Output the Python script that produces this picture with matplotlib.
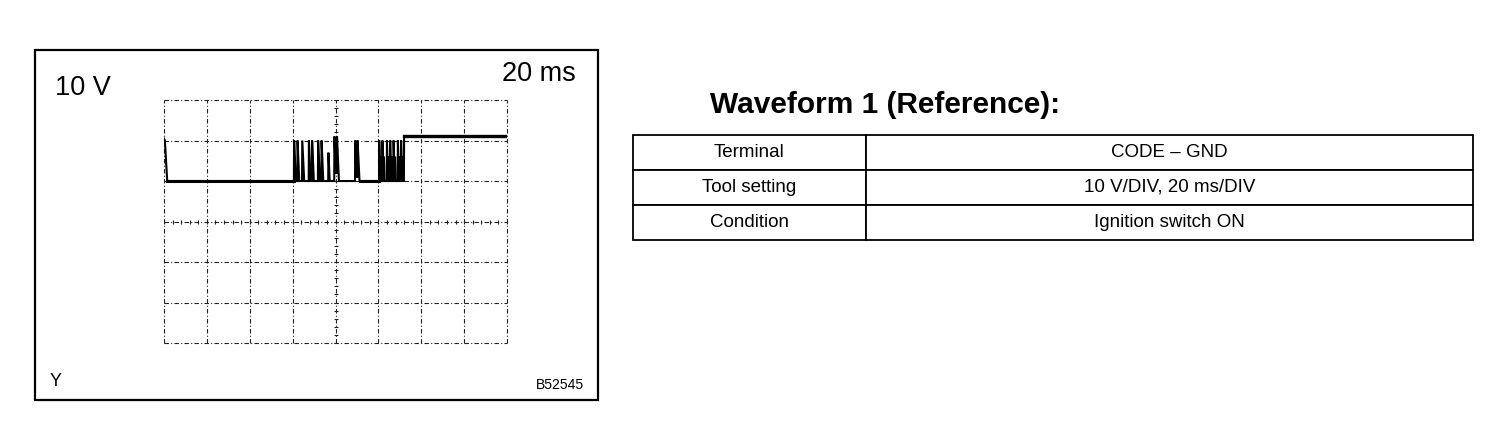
import matplotlib
matplotlib.use('Agg')
import matplotlib.pyplot as plt
from matplotlib.patches import Rectangle

# scope trace, time in ms and voltage in V (0 V = trace low level)
trace_t = [0.0, 0.4, 1.5, 59.0,
           60.6, 60.7, 61.5, 62.2, 62.3, 63.1, 64.4, 64.5, 65.4,
           67.5, 67.6, 68.4, 69.0, 69.1, 69.9, 71.8, 71.9, 72.7,
           73.4, 73.5, 74.3, 76.6, 76.7, 77.3, 79.4, 79.5, 80.1,
           80.6, 80.7, 81.6, 89.1, 89.2, 89.8, 90.2, 90.3, 91.2,
           100.3, 100.4, 100.7, 101.1, 101.3, 101.8, 101.9, 102.2, 102.6,
           102.8, 103.9, 104.0, 104.3, 104.7, 104.9, 105.4, 105.5, 105.8,
           106.2, 106.4, 107.0, 107.1, 107.4, 107.8, 108.0, 109.0, 109.1,
           109.4, 109.8, 110.0, 110.5, 110.6, 110.9, 111.3, 111.5, 111.9,
           112.0, 160.0]
trace_v = [10.5, 10.0, 0.0, 0.0,
           0.0, 10.0, 0.0, 0.0, 10.0, 0.0, 0.0, 10.0, 0.0,
           0.0, 10.0, 0.0, 0.0, 10.0, 0.0, 0.0, 10.0, 0.0,
           0.0, 10.0, 0.0, 0.0, 7.0, 0.0, 0.0, 11.0, 2.0,
           2.0, 11.0, 0.0, 0.0, 10.0, 1.0, 1.0, 10.0, 0.0,
           0.0, 10.0, 4.0, 6.0, 0.0, 0.0, 10.0, 4.0, 6.0,
           0.0, 0.0, 10.0, 4.0, 6.0, 0.0, 0.0, 10.0, 4.0,
           6.0, 0.0, 0.0, 10.0, 4.0, 6.0, 0.0, 0.0, 10.0,
           4.0, 6.0, 0.0, 0.0, 10.0, 4.0, 6.0, 0.0, 0.0,
           11.0, 11.0]

volt_div = 10   # V/DIV
time_div = 20   # ms/DIV
n_xdiv = 8
n_ydiv = 6
y_bottom = -40

row_labels = ['Terminal', 'Tool setting', 'Condition']
row_values = ['CODE – GND', '10 V/DIV, 20 ms/DIV', 'Ignition switch ON']

FONT = ['Liberation Sans', 'DejaVu Sans']

W, H = 1504, 438


def px(x, y, w, h):
    # pixel box (top-left origin) -> figure fraction
    return [x / W, 1 - (y + h) / H, w / W, h / H]


fig = plt.figure(figsize=(W / 100, H / 100), dpi=100)

# outer frame of the scope picture
fig.patches.append(Rectangle((35 / W, 1 - 400 / H), 563 / W, 350 / H,
                             transform=fig.transFigure, fill=False,
                             lw=1.6, ec='black'))

fig.text(55 / W, 1 - 88 / H, '10 V', family=FONT, fontsize=19.5, va='center', ha='left')
fig.text(576 / W, 1 - 74 / H, '20 ms', family=FONT, fontsize=19.5, va='center', ha='right')
fig.text(50 / W, 1 - 382 / H, 'Y', family=FONT, fontsize=13, va='center', ha='left')
fig.text(584 / W, 1 - 385 / H, 'B52545', family=FONT, fontsize=10, va='center', ha='right')

# ---------------- scope screen ----------------
ax = fig.add_axes(px(164, 100, 343, 243))
x_max = n_xdiv * time_div
y_top = y_bottom + n_ydiv * volt_div
ax.set_xlim(0, x_max)
ax.set_ylim(y_bottom, y_top)
ax.axis('off')

grid_kw = dict(color='#222222', lw=0.8, ls=(0, (4, 2, 1, 2)), clip_on=False)
for i in range(n_xdiv + 1):
    ax.axvline(i * time_div, **grid_kw)
for j in range(n_ydiv + 1):
    ax.axhline(y_bottom + j * volt_div, **grid_kw)

# centre lines with sub-division ticks
x_c = x_max / 2
y_c = y_bottom + n_ydiv * volt_div / 2
sub_x = [k * time_div / 5 for k in range(n_xdiv * 5 + 1)]
sub_y = [y_bottom + k * volt_div / 5 for k in range(n_ydiv * 5 + 1)]
ax.plot(sub_x, [y_c] * len(sub_x), ls='none', marker='|', ms=3.5, mew=0.8, color='#222222')
ax.plot([x_c] * len(sub_y), sub_y, ls='none', marker='_', ms=3.5, mew=0.8, color='#222222')

ax.plot(trace_t, trace_v, color='black', lw=1.5, solid_joinstyle='miter')
# heavier flat segments of the trace, as on the screen
ax.plot([1.5, 60.6], [0, 0], color='black', lw=2.2)
ax.plot([91.2, 100.3], [0, 0], color='black', lw=2.2)
ax.plot([112.0, 160.0], [11, 11], color='black', lw=2.4)

# ---------------- title and table ----------------
fig.text(710 / W, 1 - 105 / H, 'Waveform 1 (Reference):', family=FONT,
         fontsize=21.5, fontweight='bold', va='center', ha='left')

tax = fig.add_axes(px(633, 135, 840, 105))
tax.axis('off')
tab = tax.table(cellText=[[a, b] for a, b in zip(row_labels, row_values)],
                colWidths=[233 / 840, 607 / 840], cellLoc='center',
                bbox=[0, 0, 1, 1])
tab.auto_set_font_size(False)
for (r, c), cell in tab.get_celld().items():
    cell.set_linewidth(1.3)
    cell.get_text().set_fontsize(13.5)
    cell.get_text().set_family(FONT)

fig.savefig('out.png', dpi=100)
